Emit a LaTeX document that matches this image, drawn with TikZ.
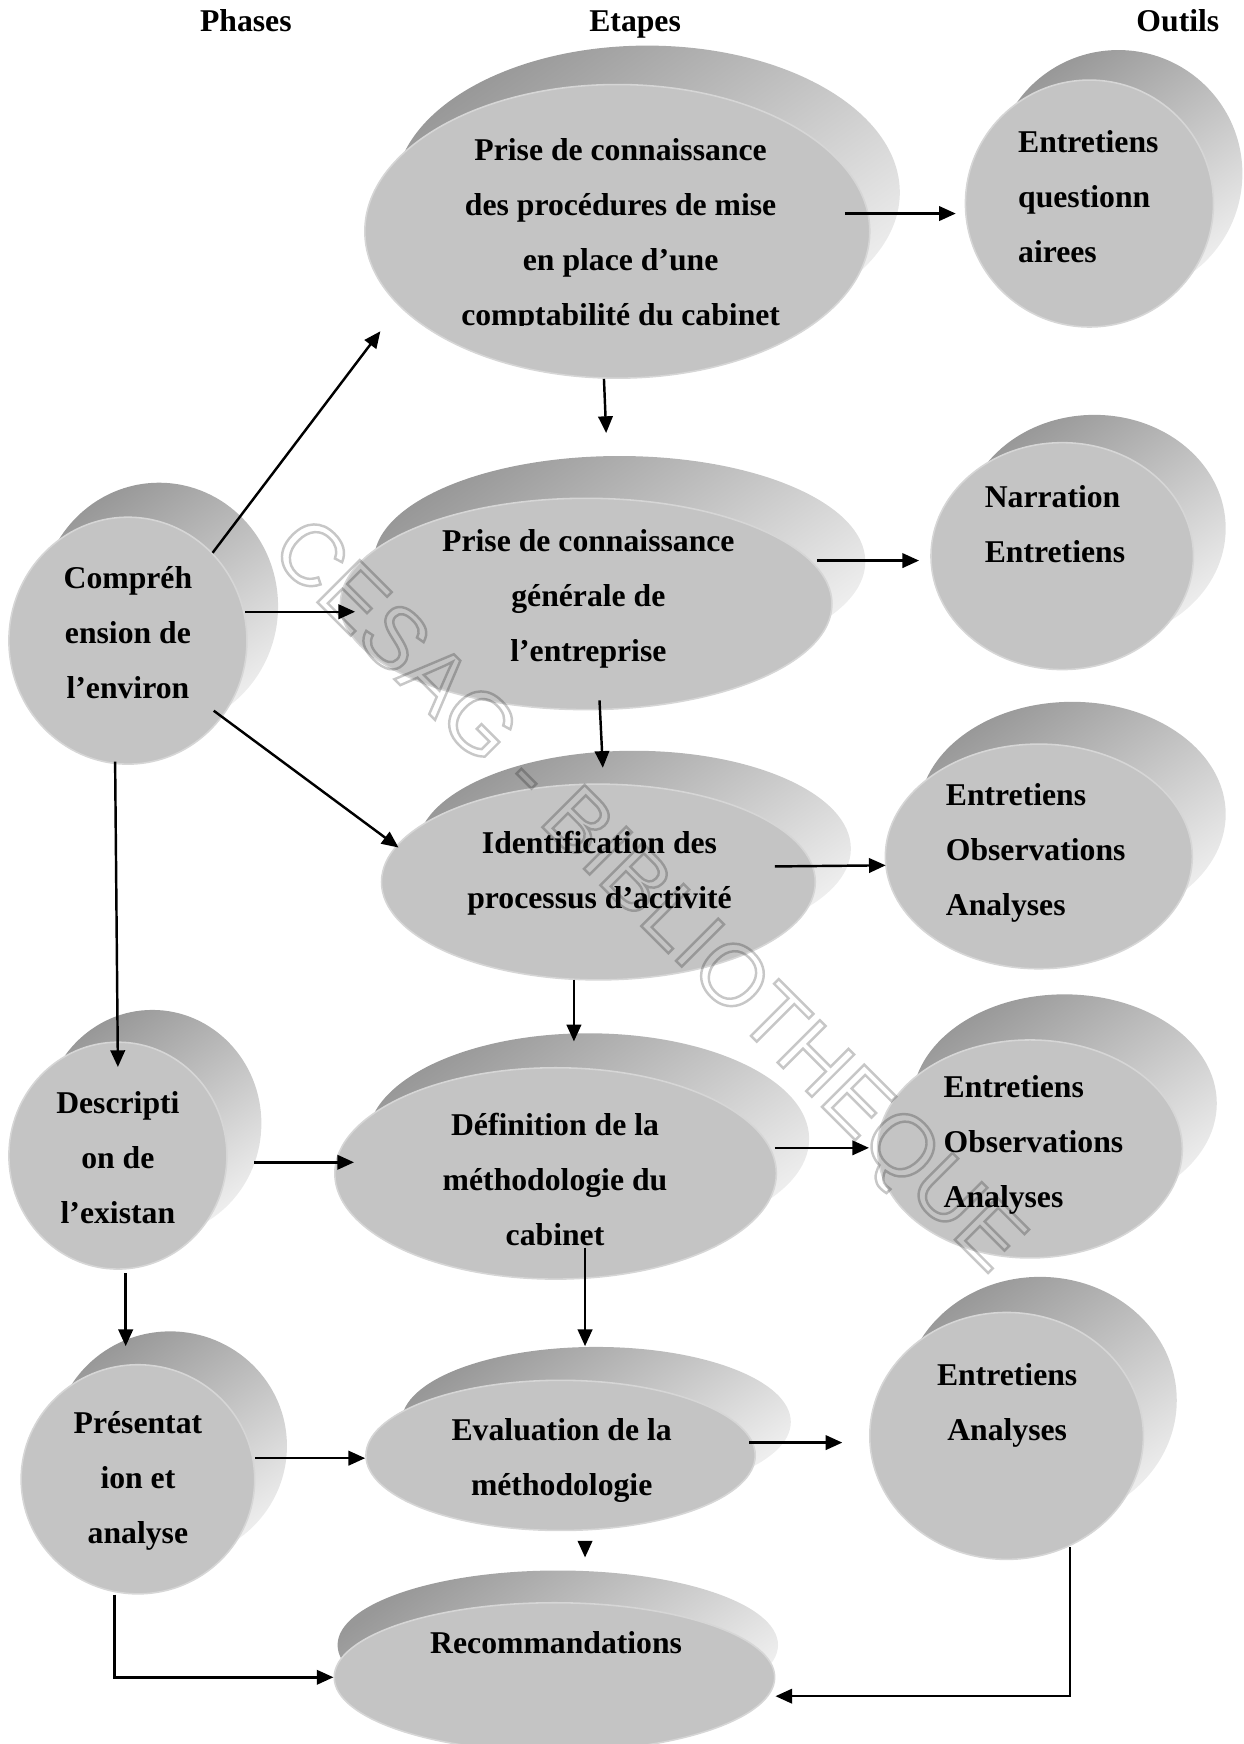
\documentclass[tikz,border=0pt]{standalone}
\usepackage{fontspec}
\setmainfont{Liberation Serif}
\newfontfamily\wmfont{Liberation Sans}
\usetikzlibrary{arrows.meta,shapes.geometric}

\definecolor{faceG}{RGB}{196,196,196}
\definecolor{faceE}{RGB}{214,214,214}
\definecolor{rimD}{RGB}{152,152,152}
\definecolor{rimM}{RGB}{212,212,212}
\definecolor{rimW}{RGB}{238,238,238}

\newcommand{\cstack}[1]{\begin{tabular}[t]{@{}c@{}}#1\end{tabular}}
\newcommand{\lstack}[1]{\begin{tabular}[t]{@{}l@{}}#1\end{tabular}}

\tikzset{
    %Define standard arrow tip
    >={Triangle[length=7.5pt,width=6.5pt]},
    rim/.style={
      ellipse,
      inner sep=0pt,
      top color=rimD, middle color=rimM, bottom color=rimW,
      shading angle=35},
    face/.style={
      ellipse,
      inner sep=0pt,
      fill=faceG,
      draw=faceE, line width=0.7pt},
    disk/.style 2 args={
      minimum width=#1pt,
      minimum height=#2pt},
    ctxt/.style={
      anchor=base,
      inner sep=0pt,
      font=\bfseries\fontsize{14.25pt}{24.75pt}\selectfont},
    ltxt/.style={
      ctxt,
      anchor=base west},
    conn/.style={
      ->,
      line width=1.1pt},
    watermark/.style={
      rotate=-45,
      inner sep=0pt,
      opacity=0.22,
      text=black,
      font=\wmfont\fontsize{39pt}{39pt}\selectfont},
}

\begin{document}
\begin{tikzpicture}[x=0.5pt, y=-0.5pt]
    \useasboundingbox (0,0) rectangle (1118,1568);

    % column heads
    \node (phases) [ctxt] at (221,28.5) {Phases};
    \node (etapes) [ctxt] at (571,28.5) {Etapes};
    \node (outils) [ctxt] at (1059,28.5) {Outils};

    % phases
    \node (p1b) [rim, disk={107}{111}] at (143,545) {};
    \node (p1) [face, disk={107}{111}] at (115,576) {};
    \node (p2b) [rim, disk={98}{102}] at (137,1010) {};
    \node (p2) [face, disk={98}{102}] at (106,1039) {};
    \node (p3b) [rim, disk={105}{103}] at (153,1300) {};
    \node (p3) [face, disk={105}{103}] at (124,1330) {};

    % etapes
    \node (e1b) [rim, disk={227}{132}] at (582,173) {};
    \node (e1) [face, disk={227}{132}] at (555,208) {};
    \node (e2b) [rim, disk={221}{95}] at (557,505) {};
    \node (e2) [face, disk={221}{95}] at (527,543) {};
    \node (e3b) [rim, disk={195}{88}] at (570,763) {};
    \node (e3) [face, disk={195}{88}] at (538,793) {};
    \node (e4b) [rim, disk={198.5}{95}] at (529,1024) {};
    \node (e4) [face, disk={198.5}{95}] at (499.5,1055) {};
    \node (e5b) [rim, disk={175}{67.5}] at (536,1278.5) {};
    \node (e5) [face, disk={175}{67.5}] at (504,1308.5) {};
    \node (e6b) [rim, disk={198}{67}] at (501.5,1479) {};
    \node (e6) [face, disk={198}{67}] at (498.5,1508) {};

    % outils
    \node (o1b) [rim, disk={111.5}{111}] at (1005.5,156) {};
    \node (o1) [face, disk={111.5}{111}] at (979.5,183) {};
    \node (o2b) [rim, disk={118}{102}] at (984,475) {};
    \node (o2) [face, disk={118}{102}] at (955,500) {};
    \node (o3b) [rim, disk={138}{101}] at (964,732) {};
    \node (o3) [face, disk={138}{101}] at (934,770) {};
    \node (o4b) [rim, disk={137}{98}] at (957,992) {};
    \node (o4) [face, disk={137}{98}] at (926,1033) {};
    \node (o5b) [rim, disk={123}{111}] at (935,1259) {};
    \node (o5) [face, disk={123}{111}] at (905,1291) {};

    % texts
    \node (p1t) [ctxt] at (115,529) {\cstack{Compréh\\ension de\\l’environ}};
    \node (p2t) [ctxt] at (106,1001) {\cstack{Descripti\\on de\\l’existan}};
    \node (p3t) [ctxt] at (124,1289) {\cstack{Présentat\\ion et\\analyse}};
    \begin{scope}
      \clip (0,0) rectangle (1118,293);
      \node (e1t) [ctxt] at (558,144)
            {\cstack{Prise de connaissance\\des procédures de mise\\en place d’une\\comptabilité du cabinet}};
    \end{scope}
    \node (e2t) [ctxt] at (529,496) {\cstack{Prise de connaissance\\générale de\\l’entreprise}};
    \node (e3t) [ctxt] at (539,767) {\cstack{Identification des\\processus d’activité}};
    \node (e4t) [ctxt] at (499,1021) {\cstack{Définition de la\\méthodologie du\\cabinet}};
    \node (e5t) [ctxt] at (505,1295) {\cstack{Evaluation de la\\méthodologie}};
    \node (e6t) [ctxt] at (500,1487) {Recommandations};
    \node (o1t) [ltxt] at (915,137) {\lstack{Entretiens\\questionn\\airees}};
    \node (o2t) [ltxt] at (885,456) {\lstack{Narration\\Entretiens}};
    \node (o3t) [ltxt] at (850,724) {\lstack{Entretiens\\Observations\\Analyses}};
    \node (o4t) [ltxt] at (848,987) {\lstack{Entretiens\\Observations\\Analyses}};
    \node (o5t) [ctxt] at (905.5,1246) {\cstack{Entretiens\\Analyses}};

    % connectors
    \draw [conn] (p1.north east) -- ([shift={(-52,-4)}]e1.south west);
    \draw [conn] ([shift={(-2,-26)}]p1.east) -- ([shift={(14,7)}]e2.west);
    \draw [conn] ([shift={(1,-16)}]p1.south east) -- ([shift={(16,-31)}]e3.west);
    \draw [conn] ([shift={(-11.5,-3)}]p1.south) -- ([shift={(0,23)}]p2.north);
    \draw [conn] ([shift={(-23,-16)}]e1.east) -- ([shift={(-8,9)}]o1.west);
    \draw [conn] ([shift={(-12,0)}]e1.south) -- ([shift={(18,-58)}]e2.north);
    \draw [conn] ([shift={(-14,-39)}]e2.east) -- ([shift={(-10,4)}]o2.west);
    \draw [conn] ([shift={(12,-9)}]e2.south) -- ([shift={(4,-14)}]e3.north);
    \draw [conn] ([shift={(-37,-14)}]e3.east) -- ([shift={(1,8)}]o3.west);
    \draw [conn] ([shift={(-22,-1)}]e3.south) -- ([shift={(16.5,-23)}]e4.north);
    \draw [conn] ([shift={(24,6)}]p2.east) -- ([shift={(18,-10)}]e4.west);
    \draw [conn] ([shift={(-2,-23)}]e4.east) -- ([shift={(-7,-1)}]o4.west);
    \draw [conn] ([shift={(26.5,-29)}]e4.south) -- ([shift={(22,-30)}]e5.north);
    \draw [conn] ([shift={(7,3)}]p2.south) -- ([shift={(-11,-16)}]p3.north);
    \draw [conn] ([shift={(0,-19)}]p3.east) -- ([shift={(0,2.5)}]e5.west);
    \draw [conn] ([shift={(-6,-11.5)}]e5.east) -- ([shift={(-24,6)}]o5.west);
    \draw [conn] ([shift={(22,11)}]e5.south) -- ([shift={(27.5,-40)}]e6.north);
    \draw [conn] ([shift={(-21,0)}]p3.south) |- (e6.west);
    \draw [conn] ([shift={(57,-12)}]o5.south) |- ([shift={(0,17)}]e6.east);

    % watermark
    \node (wm) [watermark] at (580,808)
          {\special{pdf:literal direct 1 Tr 1.1 w}CESAG - BIBLIOTHEQUE\special{pdf:literal direct 0 Tr}};
\end{tikzpicture}
\end{document}
